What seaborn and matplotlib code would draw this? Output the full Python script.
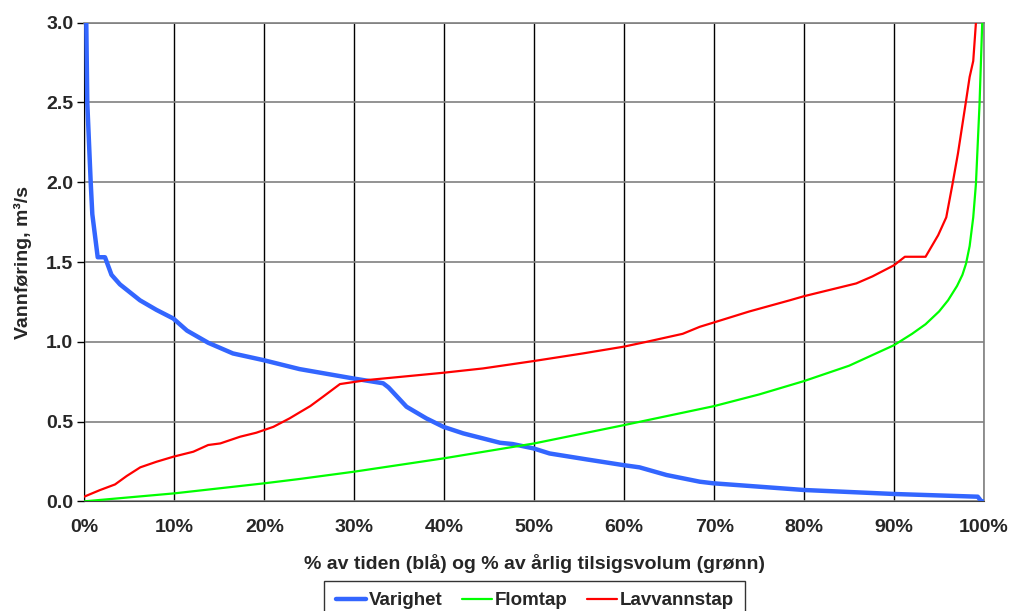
import matplotlib
matplotlib.use("Agg")
import matplotlib.pyplot as plt
import seaborn as sns
import pandas as pd
from matplotlib.ticker import PercentFormatter, MultipleLocator

# Varighet (duration curve), % of time vs m3/s
varighet_x = [0.0, 0.2, 0.31, 0.69, 0.87, 1.47, 2.28, 3.0, 3.94, 6.17, 8.0, 9.87,
              11.4, 13.75, 16.5, 19.9, 23.9, 29.9, 33.2, 33.8, 35.8, 38.0, 39.9,
              42.1, 46.2, 47.6, 49.9, 51.7, 55.8, 59.9, 61.7, 64.7, 68.4, 69.9,
              80.0, 90.0, 99.3, 99.7, 100.0]
varighet_y = [3.4, 3.0, 2.5, 2.0, 1.8, 1.53, 1.53, 1.42, 1.36, 1.26, 1.20, 1.146,
              1.07, 0.994, 0.927, 0.885, 0.829, 0.77, 0.74, 0.714, 0.593, 0.52, 0.467,
              0.426, 0.367, 0.359, 0.332, 0.30, 0.263, 0.227, 0.213, 0.165, 0.123, 0.113,
              0.071, 0.046, 0.029, 0.0, 0.0]

# Flomtap, % of annual inflow volume
flomtap_x = [0.0, 10.0, 20.0, 23.9, 30.0, 40.0, 50.0, 60.0, 70.0, 75.0, 80.0, 85.0,
             90.0, 92.0, 93.5, 95.0, 96.0, 97.0, 97.6, 98.0, 98.4, 98.8, 99.1, 99.5,
             99.8, 99.9]
flomtap_y = [0.0, 0.05, 0.113, 0.14, 0.186, 0.27, 0.363, 0.478, 0.597, 0.67, 0.754, 0.85,
             0.979, 1.05, 1.11, 1.19, 1.26, 1.35, 1.42, 1.49, 1.60, 1.78, 1.99, 2.49,
             3.0, 3.3]

# Lavvannstap
lavvann_x = [0.0, 1.7, 3.4, 4.7, 6.2, 8.0, 9.9, 12.1, 13.75, 15.1, 17.3, 19.1, 21.0,
             22.8, 23.9, 25.1, 26.5, 28.4, 31.4, 35.1, 39.9, 44.3, 49.9, 55.4, 59.9,
             62.5, 66.5, 68.4, 69.9, 73.9, 78.4, 80.0, 85.8, 87.6, 90.0, 91.2, 93.5,
             94.9, 95.8, 96.5, 97.1, 98.0, 98.4, 98.8, 99.1, 99.2]
lavvann_y = [0.03, 0.07, 0.106, 0.159, 0.213, 0.248, 0.28, 0.311, 0.353, 0.363, 0.405,
             0.43, 0.467, 0.52, 0.557, 0.597, 0.655, 0.735, 0.76, 0.78, 0.806, 0.833,
             0.879, 0.927, 0.969, 1.0, 1.05, 1.094, 1.12, 1.19, 1.26, 1.286, 1.366,
             1.41, 1.48, 1.533, 1.533, 1.668, 1.78, 1.99, 2.18, 2.51, 2.66, 2.76, 3.0, 3.3]

df = pd.concat([
    pd.DataFrame({"x": varighet_x, "y": varighet_y, "serie": "Varighet"}),
    pd.DataFrame({"x": flomtap_x, "y": flomtap_y, "serie": "Flomtap"}),
    pd.DataFrame({"x": lavvann_x, "y": lavvann_y, "serie": "Lavvannstap"}),
], ignore_index=True)

sns.set_style("white")
plt.rcParams["font.family"] = ["Liberation Sans", "DejaVu Sans"]
plt.rcParams["font.weight"] = "bold"

fig = plt.figure(figsize=(10.13, 6.11), dpi=100)
ax = fig.add_axes([0.0834, 0.1795, 0.888, 0.7833])

palette = {"Varighet": "#3366FF", "Flomtap": "#00FF00", "Lavvannstap": "#FF0000"}
widths = {"Varighet": 3.2, "Flomtap": 1.6, "Lavvannstap": 1.6}
for name in ["Varighet", "Flomtap", "Lavvannstap"]:
    sub = df[df["serie"] == name]
    sns.lineplot(data=sub, x="x", y="y", ax=ax, color=palette[name],
                 lw=widths[name], sort=False, estimator=None, label=name, zorder=3)

ax.set_xlim(0, 100)
ax.set_ylim(0, 3.0)
ax.xaxis.set_major_locator(MultipleLocator(10))
ax.yaxis.set_major_locator(MultipleLocator(0.5))
ax.xaxis.set_major_formatter(PercentFormatter(decimals=0))
ax.yaxis.set_major_formatter(lambda v, p: f"{v:.1f}")

ax.grid(axis="x", color="black", lw=1.0)
ax.grid(axis="y", color="#808080", lw=1.2)
ax.set_axisbelow(True)
for s in ["top", "right"]:
    ax.spines[s].set_color("#808080")
    ax.spines[s].set_linewidth(1.2)
ax.spines["left"].set_color("black")
ax.spines["bottom"].set_color("#404040")

ax.tick_params(axis="y", length=5, width=1, color="black", labelsize=14, pad=3,
               left=True)
ax.tick_params(axis="x", length=0, labelsize=14, pad=13)
for lab in ax.get_xticklabels() + ax.get_yticklabels():
    lab.set_fontweight("bold")

ax.set_xlabel("% av tiden (blå) og % av årlig tilsigsvolum (grønn)",
              fontsize=14, fontweight="bold", labelpad=13)
ax.set_ylabel("Vannføring, m³/s", fontsize=14, fontweight="bold", labelpad=10)

ax.get_legend().remove()
handles, labels = ax.get_legend_handles_labels()
leg = fig.legend(handles, labels, loc="upper center", bbox_to_anchor=(0.528, 0.049),
                 ncol=3, frameon=True, fancybox=False, edgecolor="black",
                 prop={"size": 13.5, "weight": "bold"}, handlelength=1.6,
                 handletextpad=0.15, columnspacing=1.05, borderpad=0.6,
                 borderaxespad=0)
leg.get_frame().set_linewidth(1.0)

fig.savefig("out.png", dpi=100)
